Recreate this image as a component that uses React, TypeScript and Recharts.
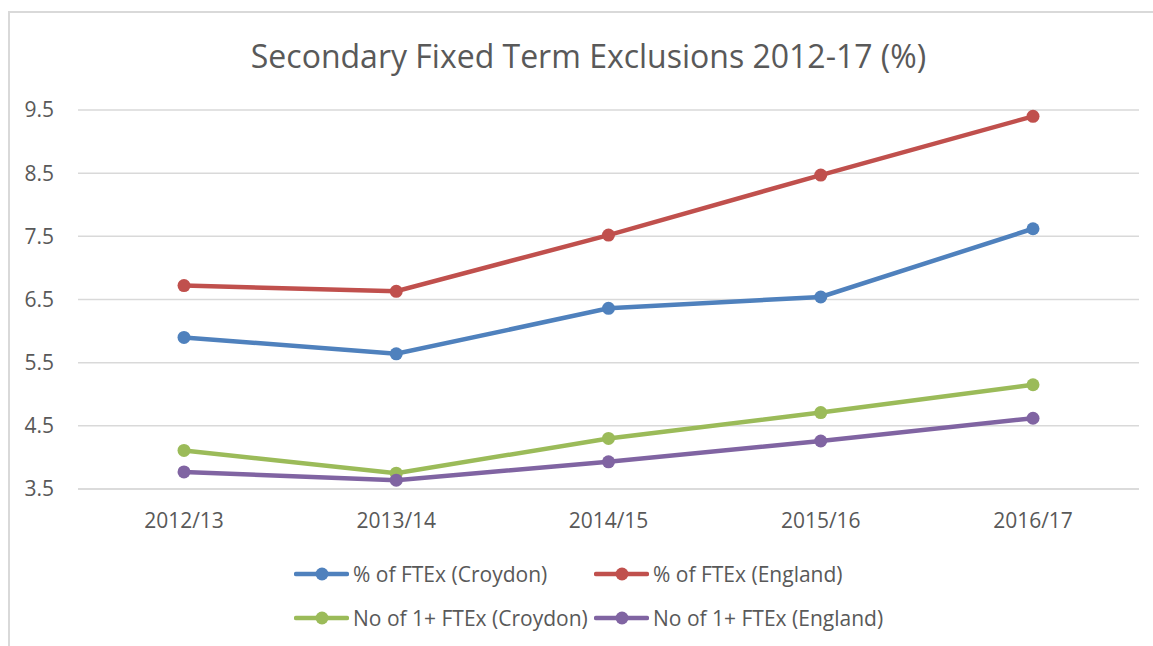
import React from "react";
import { LineChart, Line, XAxis, YAxis, CartesianGrid, Legend } from "recharts";

const categories = ["2012/13", "2013/14", "2014/15", "2015/16", "2016/17"];
const croydonPct = [5.9, 5.64, 6.36, 6.54, 7.62];
const englandPct = [6.72, 6.63, 7.52, 8.47, 9.4];
const croydonNo = [4.11, 3.75, 4.3, 4.71, 5.15];
const englandNo = [3.77, 3.64, 3.93, 4.26, 4.62];
const yTicks = [3.5, 4.5, 5.5, 6.5, 7.5, 8.5, 9.5];

const seriesNames = [
  "% of FTEx (Croydon)",
  "% of FTEx (England)",
  "No of 1+ FTEx (Croydon)",
  "No of 1+ FTEx (England)",
];
const seriesKeys = ["croydonPct", "englandPct", "croydonNo", "englandNo"];
const seriesColors = ["#4f81bd", "#c0504d", "#9bbb59", "#8064a2"];

const data = categories.map((c, i) => ({
  category: c,
  croydonPct: croydonPct[i],
  englandPct: englandPct[i],
  croydonNo: croydonNo[i],
  englandNo: englandNo[i],
}));

const FONT = "'Open Sans', sans-serif";
const TEXT = "#595959";

const legendPos = [
  { left: 294, top: 43 },
  { left: 594, top: 43 },
  { left: 294, top: 87 },
  { left: 594, top: 87 },
];

const LegendContent = () => (
  <div style={{ position: "relative", width: 1153, height: 107 }}>
    {seriesNames.map((name, i) => (
      <div
        key={name}
        style={{
          position: "absolute",
          left: legendPos[i].left,
          top: legendPos[i].top,
          height: 24,
          display: "flex",
          alignItems: "center",
          whiteSpace: "nowrap",
        }}
      >
        <svg width={55} height={16} style={{ display: "block" }}>
          <line x1={2} y1={8} x2={53} y2={8} stroke={seriesColors[i]} strokeWidth={4.5} strokeLinecap="round" />
          <circle cx={28} cy={8} r={6.5} fill={seriesColors[i]} />
        </svg>
        <span style={{ marginLeft: 4, fontFamily: FONT, fontSize: 21, color: TEXT, lineHeight: "24px" }}>
          {name}
        </span>
      </div>
    ))}
  </div>
);

export default function App() {
  return (
    <div style={{ position: "absolute", left: 0, top: 0, width: 1153, height: 646, background: "#fff", overflow: "hidden" }}>
      <div
        style={{
          position: "absolute",
          left: 8,
          top: 11,
          width: 1160,
          height: 650,
          borderLeft: "2px solid #d9d9d9",
          borderTop: "2px solid #d9d9d9",
        }}
      />
      <div
        style={{
          position: "absolute",
          left: 0,
          top: 36,
          width: 1177,
          textAlign: "center",
          fontFamily: FONT,
          fontSize: 32,
          lineHeight: "40px",
          color: TEXT,
          whiteSpace: "nowrap",
        }}
      >
        Secondary Fixed Term Exclusions 2012-17 (%)
      </div>
      <div style={{ position: "absolute", left: 0, top: 0 }}>
        <LineChart
          width={1153}
          height={646}
          data={data}
          margin={{ top: 110, right: 14, bottom: 20, left: 18 }}
        >
          <CartesianGrid vertical={false} stroke="#d9d9d9" strokeWidth={1.5} />
          <XAxis
            dataKey="category"
            height={30}
            padding={{ left: 106, right: 106 }}
            tickLine={false}
            tickSize={0}
            tickMargin={24}
            axisLine={{ stroke: "#d9d9d9", strokeWidth: 1.5 }}
            tick={{ fill: TEXT, fontSize: 21, fontFamily: FONT }}
          />
          <YAxis
            width={60}
            domain={[3.5, 9.5]}
            ticks={yTicks}
            interval={0}
            tickLine={false}
            axisLine={false}
            tickSize={0}
            tickMargin={24}
            tickFormatter={(v: number) => v.toFixed(1)}
            tick={{ fill: TEXT, fontSize: 21, fontFamily: FONT }}
          />
          <Legend
            verticalAlign="bottom"
            content={() => <LegendContent />}
            wrapperStyle={{ left: 0, width: 1153, height: 107 }}
          />
          {seriesKeys.map((k, i) => (
            <Line
              key={k}
              type="linear"
              dataKey={k}
              name={seriesNames[i]}
              stroke={seriesColors[i]}
              strokeWidth={4.5}
              dot={{ r: 6.5, fill: seriesColors[i], stroke: seriesColors[i], strokeWidth: 0 }}
              activeDot={false}
              isAnimationActive={false}
            />
          ))}
        </LineChart>
      </div>
    </div>
  );
}
